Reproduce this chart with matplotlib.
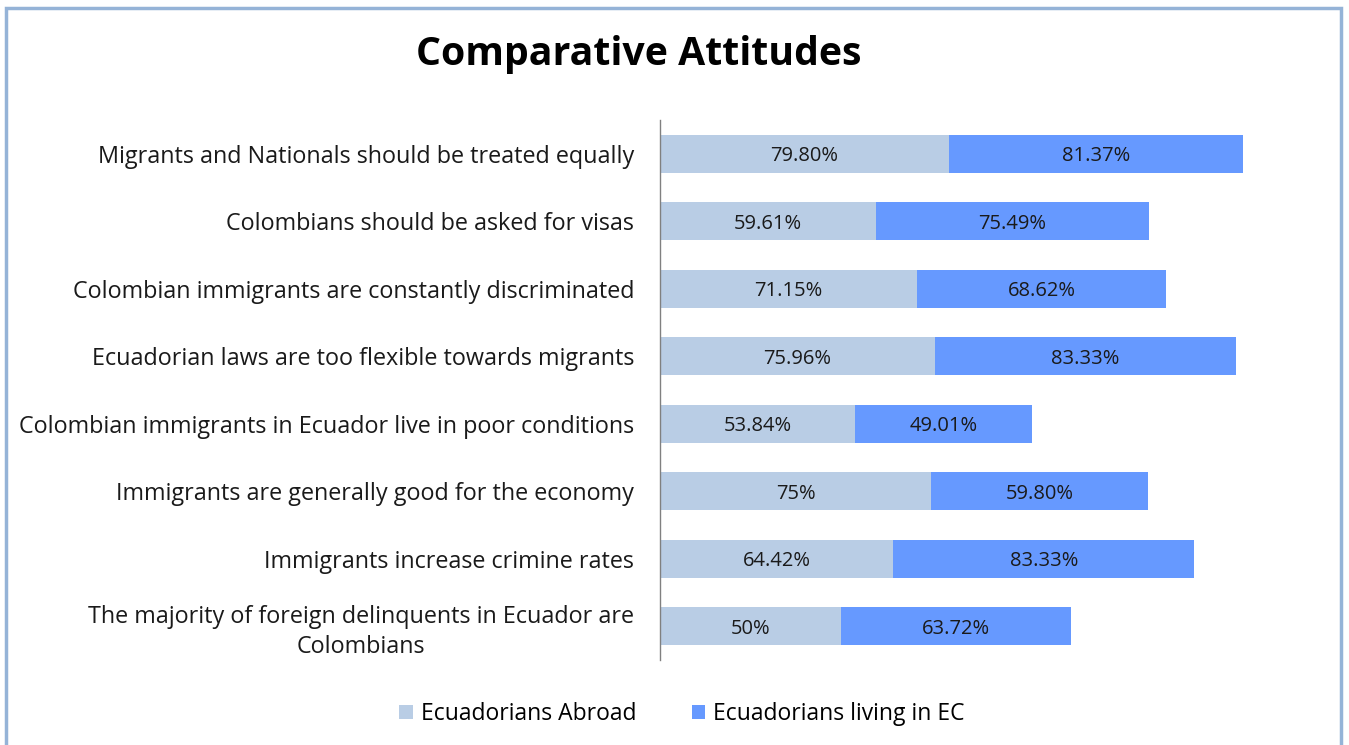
import matplotlib.pyplot as plt
from matplotlib.patches import Rectangle

statements = [
    "Migrants and Nationals should be treated equally",
    "Colombians should be asked for visas",
    "Colombian immigrants are constantly discriminated",
    "Ecuadorian laws are too flexible towards migrants",
    "Colombian immigrants in Ecuador live in poor conditions",
    "Immigrants are generally good for the economy",
    "Immigrants increase crimine rates",
    "The majority of foreign delinquents in Ecuador are\nColombians",
]
abroad = [79.80, 59.61, 71.15, 75.96, 53.84, 75.00, 64.42, 50.00]
living_ec = [81.37, 75.49, 68.62, 83.33, 49.01, 59.80, 83.33, 63.72]
abroad_labels = ["79.80%", "59.61%", "71.15%", "75.96%", "53.84%", "75%", "64.42%", "50%"]
living_labels = ["81.37%", "75.49%", "68.62%", "83.33%", "49.01%", "59.80%", "83.33%", "63.72%"]
series_names = ["Ecuadorians Abroad", "Ecuadorians living in EC"]

plt.rcParams['font.family'] = ['Open Sans', 'DejaVu Sans']

W, H = 1349, 745
fig = plt.figure(figsize=(W / 100, H / 100), dpi=100)
ax = fig.add_axes([660 / W, 1 - 660 / H, 633 / W, 540 / H])

c_abroad = "#B9CDE5"
c_living = "#6699FF"
y = list(range(len(statements)))
b1 = ax.barh(y, abroad, height=0.57, color=c_abroad, label=series_names[0])
b2 = ax.barh(y, living_ec, left=abroad, height=0.57, color=c_living, label=series_names[1])

for bars, texts in ((b1, abroad_labels), (b2, living_labels)):
    for rect, txt in zip(bars, texts):
        ax.text(rect.get_x() + rect.get_width() / 2, rect.get_y() + rect.get_height() / 2,
                txt, ha="center", va="center_baseline", fontsize=14.5, color="#1a1a1a")

ax.set_xlim(0, 175)
ax.set_ylim(len(statements) - 0.5, -0.5)
ax.set_yticks(y)
ax.set_yticklabels(statements, fontsize=16.8, color="#1a1a1a",
                   multialignment="center", linespacing=1.3)
ax.tick_params(axis="y", length=0, pad=18.5)
ax.tick_params(axis="x", bottom=False, labelbottom=False)
for side in ("top", "right", "bottom"):
    ax.spines[side].set_visible(False)
ax.spines["left"].set_color("#808080")
ax.spines["left"].set_linewidth(1.0)

fig.text(639 / W, 1 - 54 / H, "Comparative Attitudes", ha="center", va="center",
         fontsize=28.3, fontweight="bold", color="black")

fig.legend(handles=[b1, b2], labels=series_names, loc="center",
           bbox_to_anchor=(682 / W, 1 - 714 / H),
           ncol=2, frameon=False, fontsize=16.5, handlelength=0.6, handleheight=0.6,
           handletextpad=0.35, columnspacing=2.4)

fig.patches.append(Rectangle((5.5 / W, -0.02), 1335.5 / W, 1.02 - 8.5 / H,
                             transform=fig.transFigure, fill=False,
                             edgecolor="#95B3D7", linewidth=2.5))

fig.savefig("out.png", dpi=100, facecolor="white")
